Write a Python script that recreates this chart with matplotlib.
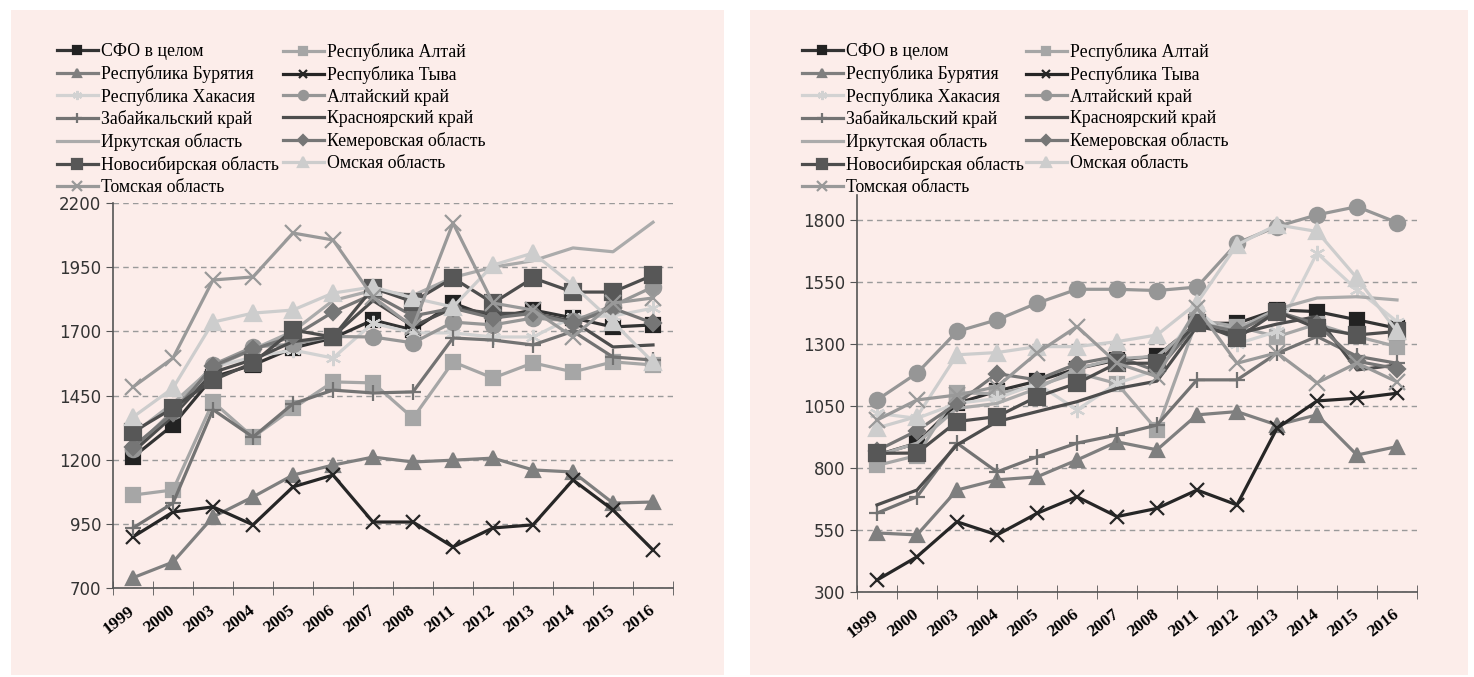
"""
Two panels of regional line series for the Siberian Federal District (1999-2016)
"""

import numpy as np
import matplotlib
matplotlib.use("Agg")
import matplotlib.pyplot as plt
from matplotlib.patches import Rectangle

# -----------------------------
# Data

years = ['1999', '2000', '2003', '2004', '2005', '2006', '2007',
         '2008', '2011', '2012', '2013', '2014', '2015', '2016']

names = ['СФО в целом', 'Республика Алтай', 'Республика Бурятия', 'Республика Тыва',
         'Республика Хакасия', 'Алтайский край', 'Забайкальский край', 'Красноярский край',
         'Иркутская область', 'Кемеровская область', 'Новосибирская область',
         'Омская область', 'Томская область']

# left panel
sfo_L = [1210, 1335, 1522, 1569, 1635, 1674, 1744, 1705, 1810, 1752, 1783, 1752, 1717, 1725]
altai_rep_L = [1062, 1082, 1425, 1288, 1400, 1503, 1499, 1362, 1581, 1518, 1577, 1542, 1581, 1569]
buryat_L = [740, 801, 977, 1055, 1140, 1179, 1210, 1191, 1198, 1206, 1160, 1152, 1031, 1035]
tyva_L = [899, 996, 1016, 946, 1094, 1140, 957, 957, 860, 934, 946, 1121, 1004, 848]
khakas_L = [1250, 1380, 1560, 1600, 1627, 1596, 1732, 1694, 1694, 1678, 1678, 1756, 1760, 1790]
altai_krai_L = [1240, 1390, 1570, 1639, 1650, 1680, 1678, 1655, 1736, 1725, 1752, 1740, 1800, 1873]
zabaik_L = [934, 1031, 1395, 1288, 1418, 1471, 1460, 1464, 1674, 1666, 1647, 1700, 1600, 1588]
krasn_L = [1230, 1370, 1540, 1590, 1660, 1680, 1820, 1720, 1790, 1770, 1770, 1740, 1639, 1647]
irkut_L = [1300, 1420, 1560, 1630, 1700, 1820, 1860, 1840, 1910, 1950, 1975, 2025, 2010, 2125]
kemer_L = [1250, 1380, 1565, 1630, 1680, 1775, 1845, 1760, 1790, 1752, 1770, 1732, 1790, 1732]
novosib_L = [1308, 1401, 1510, 1577, 1705, 1678, 1869, 1815, 1908, 1810, 1908, 1853, 1853, 1919]
omsk_L = [1366, 1479, 1736, 1771, 1783, 1849, 1873, 1830, 1795, 1958, 2005, 1880, 1736, 1580]
tomsk_L = [1483, 1596, 1900, 1912, 2083, 2056, 1834, 1717, 2122, 1810, 1783, 1678, 1810, 1830]

# right panel
sfo_R = [852, 900, 1060, 1110, 1150, 1200, 1235, 1250, 1383, 1383, 1437, 1430, 1397, 1363]
altai_rep_R = [810, 850, 1102, 1100, 1130, 1183, 1140, 953, 1397, 1370, 1329, 1380, 1330, 1289]
buryat_R = [538, 530, 711, 752, 764, 832, 905, 873, 1014, 1027, 973, 1014, 852, 886]
tyva_R = [348, 442, 583, 530, 617, 684, 604, 637, 711, 651, 960, 1070, 1081, 1101]
khakas_R = [1020, 1000, 1060, 1080, 1140, 1034, 1141, 1195, 1437, 1300, 1350, 1666, 1518, 1390]
altai_krai_R = [1074, 1182, 1350, 1397, 1464, 1520, 1520, 1515, 1529, 1706, 1773, 1820, 1853, 1789]
zabaik_R = [618, 684, 900, 784, 845, 900, 933, 973, 1155, 1155, 1262, 1330, 1250, 1222]
krasn_R = [651, 711, 893, 987, 1027, 1067, 1120, 1150, 1370, 1340, 1380, 1410, 1195, 1215]
irkut_R = [850, 900, 1040, 1060, 1120, 1200, 1240, 1250, 1380, 1360, 1440, 1485, 1490, 1477]
kemer_R = [870, 950, 1060, 1180, 1155, 1220, 1250, 1190, 1383, 1350, 1430, 1380, 1230, 1200]
novosib_R = [859, 860, 987, 1007, 1087, 1141, 1222, 1222, 1383, 1323, 1430, 1363, 1336, 1350]
omsk_R = [961, 1007, 1256, 1265, 1289, 1289, 1309, 1336, 1464, 1699, 1780, 1753, 1565, 1350]
tomsk_R = [993, 1074, 1094, 1127, 1263, 1370, 1222, 1168, 1444, 1222, 1264, 1143, 1223, 1147]

left_series = [sfo_L, altai_rep_L, buryat_L, tyva_L, khakas_L, altai_krai_L, zabaik_L,
               krasn_L, irkut_L, kemer_L, novosib_L, omsk_L, tomsk_L]
right_series = [sfo_R, altai_rep_R, buryat_R, tyva_R, khakas_R, altai_krai_R, zabaik_R,
                krasn_R, irkut_R, kemer_R, novosib_R, omsk_R, tomsk_R]

# (line colour, marker colour, marker, marker size)
styles = [
    ('#333333', '#222222', 's', 10),
    ('#a6a6a6', '#a6a6a6', 's', 10),
    ('#7f7f7f', '#7f7f7f', '^', 10),
    ('#262626', '#262626', 'x', 10),
    ('#d2d2d2', '#d2d2d2', (6, 2, 0), 11),
    ('#969696', '#969696', 'o', 11),
    ('#737373', '#737373', '+', 11),
    ('#4d4d4d', '#4d4d4d', None, 0),
    ('#ababab', '#ababab', None, 0),
    ('#767676', '#767676', 'D', 8),
    ('#4d4d4d', '#575757', 's', 11),
    ('#cdcdcd', '#cdcdcd', '^', 11),
    ('#999999', '#999999', 'x', 11),
]

PANEL_COLOR = '#fcedea'
W, H = 1474, 677


def draw_panel(fig, rect, series, ylim, yticks, col1_x, col2_x):
    """Draw one line panel with its two-column legend above it"""
    ax = fig.add_axes(rect)
    ax.set_facecolor('none')
    x = np.arange(len(years))

    handles = []
    for vals, (lc, mc, mk, ms), name in zip(series, styles, names):
        line, = ax.plot(x, vals, color=lc, lw=2.3, marker=mk, markersize=ms,
                        markerfacecolor=mc, markeredgecolor=mc, markeredgewidth=1.6,
                        label=name, clip_on=False)
        handles.append(line)

    ax.set_xlim(-0.5, len(years) - 0.5)
    ax.set_ylim(*ylim)
    ax.set_yticks(yticks)
    ax.set_yticklabels([str(v) for v in yticks], fontsize=12, color='#333333',
                       family='DejaVu Sans')
    ax.grid(axis='y', linestyle=(0, (4, 3)), color='#9a9a9a', lw=1)
    ax.set_axisbelow(True)

    ax.set_xticks(x)
    ax.set_xticklabels(years, rotation=38, ha='right', va='center', rotation_mode='anchor',
                       fontsize=12.5, fontweight='bold', family='Liberation Serif')
    ax.set_xticks(np.arange(-0.5, len(years)), minor=True)
    ax.tick_params(axis='x', which='major', length=0, pad=15)
    ax.tick_params(axis='x', which='minor', length=10, direction='inout', color='#555555')
    ax.tick_params(axis='y', length=5, color='#555555')

    for s in ['top', 'right']:
        ax.spines[s].set_visible(False)
    for s in ['left', 'bottom']:
        ax.spines[s].set_color('#555555')
        ax.spines[s].set_linewidth(1.2)

    # legend is filled by rows in the reference: even items left, odd items right
    leg_kw = dict(loc='upper left', frameon=False,
                  prop={'family': 'Liberation Serif', 'size': 12.8},
                  borderpad=0, borderaxespad=0, handlelength=2.3, handletextpad=0.15,
                  labelspacing=0.27, markerscale=0.6)
    for idx, xpos in [(range(0, 13, 2), col1_x), (range(1, 13, 2), col2_x)]:
        fig.legend([handles[i] for i in idx], [names[i] for i in idx],
                   bbox_to_anchor=(xpos / W, 1 - 43 / H), **leg_kw)
    return ax


fig = plt.figure(figsize=(W / 100, H / 100), dpi=100)

# pink panel backgrounds
fig.patches.append(Rectangle((11 / W, 1 - 675 / H), 713 / W, 665 / H, transform=fig.transFigure,
                             facecolor=PANEL_COLOR, edgecolor='none', zorder=-10))
fig.patches.append(Rectangle((750 / W, 1 - 675 / H), 718 / W, 665 / H, transform=fig.transFigure,
                             facecolor=PANEL_COLOR, edgecolor='none', zorder=-10))

draw_panel(fig, [113 / W, 1 - 588 / H, 560 / W, 385 / H], left_series,
           (700, 2200), list(range(700, 2201, 250)), 57, 283)
draw_panel(fig, [857 / W, 1 - 592 / H, 560 / W, 397 / H], right_series,
           (300, 1900), list(range(300, 1801, 250)), 802, 1026)

plt.savefig('out.png', dpi=100)
